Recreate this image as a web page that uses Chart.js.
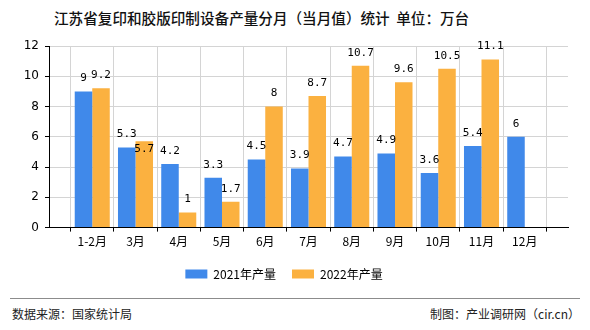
<!DOCTYPE html>
<html>
<head>
<meta charset="utf-8">
<script src="https://cdn.jsdelivr.net/npm/chart.js@4.4.1/dist/chart.umd.min.js"></script>
<style>
  body { margin: 0; width: 590px; height: 330px; position: relative; background: #fff; overflow: hidden;
         font-family: "Noto Sans CJK SC", sans-serif; }
  #title { position: absolute; left: 54px; top: 7px; font-size: 14.6px; font-weight: 500; white-space: nowrap; color: #111; }
  #box { position: absolute; left: 0; top: 0; width: 590px; height: 296px; }
  #rule { position: absolute; left: 10px; width: 570px; top: 298px; border-top: 1px solid #8c8c8c; }
  .foot { position: absolute; top: 305px; font-size: 12px; color: #222; white-space: nowrap; }
</style>
</head>
<body>
<div id="title">江苏省复印和胶版印制设备产量分月（当月值）统计&nbsp;&nbsp;单位：万台</div>
<div id="box"><canvas id="chart" width="590" height="296"></canvas></div>
<div id="rule"></div>
<div class="foot" style="left:12px">数据来源：国家统计局</div>
<div class="foot" style="right:10px">制图：产业调研网（cir.cn）</div>
<script>
const months = ["1-2月", "3月", "4月", "5月", "6月", "7月", "8月", "9月", "10月", "11月", "12月"];
const output2021 = [9, 5.3, 4.2, 3.3, 4.5, 3.9, 4.7, 4.9, 3.6, 5.4, 6];
const output2022 = [9.2, 5.7, 1, 1.7, 8, 8.7, 10.7, 9.6, 10.5, 11.1, null];
const yTicks = [0, 2, 4, 6, 8, 10, 12];

// labels above bars; if the two labels of a month collide, drop the second into its bar
const valueLabels = {
    id: 'valueLabels',
    afterDatasetsDraw(chart) {
        const ctx = chart.ctx;
        ctx.save();
        ctx.font = '11px "DejaVu Sans Mono"';
        ctx.fillStyle = '#000';
        ctx.textAlign = 'center';
        ctx.textBaseline = 'middle';
        const a = chart.getDatasetMeta(0).data;
        const b = chart.getDatasetMeta(1).data;
        const da = chart.data.datasets[0].data;
        const db = chart.data.datasets[1].data;
        for (let j = 0; j < da.length; j++) {
            let ya = null;
            if (da[j] != null) {
                ya = a[j].y - 13;
                ctx.fillText(String(da[j]), a[j].x, ya);
            }
            if (db[j] != null) {
                let yb = b[j].y - 13;
                if (ya != null) {
                    const wa = ctx.measureText(String(da[j])).width;
                    const wb = ctx.measureText(String(db[j])).width;
                    if (Math.abs(ya - yb) < 11 && (wa + wb) / 2 > b[j].x - a[j].x) {
                        yb = b[j].y + 8;
                    }
                }
                ctx.fillText(String(db[j]), b[j].x, yb);
            }
        }
        ctx.restore();
    }
};

function createChart() {
    const el = document.getElementById("chart");
    const data = {
        labels: [""].concat(months, [""]),
        datasets: [{
            label: '2021年产量',
            data: [null].concat(output2021, [null]),
            backgroundColor: '#4089EA',
            barPercentage: 1,
            categoryPercentage: 0.81
        }, {
            label: '2022年产量',
            data: [null].concat(output2022, [null]),
            backgroundColor: '#FBB140',
            barPercentage: 1,
            categoryPercentage: 0.81
        }]
    };

    const config = {
        type: 'bar',
        data: data,
        options: {
            responsive: false,
            animation: false,
            layout: { padding: { top: 46, right: 22, left: 0, bottom: 6 } },
            plugins: {
                legend: {
                    position: 'bottom',
                    labels: {
                        boxWidth: 22,
                        boxHeight: 9,
                        padding: 16,
                        color: '#000',
                        font: { family: '"Noto Sans CJK SC"', size: 12 }
                    }
                },
                tooltip: { enabled: false }
            },
            scales: {
                x: {
                    offset: false,
                    grid: { color: '#d4d4d4', tickColor: '#000', tickLength: 4 },
                    border: { color: '#000' },
                    ticks: {
                        color: '#000',
                        padding: 3,
                        maxRotation: 0,
                        autoSkip: false,
                        font: { family: '"Noto Sans CJK SC"', size: 12 }
                    }
                },
                y: {
                    min: 0,
                    max: 12,
                    afterBuildTicks: (s) => { s.ticks = yTicks.map(v => ({ value: v })); },
                    afterFit: (s) => { s.width = 49; },
                    grid: { color: '#d4d4d4', tickColor: '#000', tickLength: 4 },
                    border: { color: '#000' },
                    ticks: {
                        color: '#000',
                        padding: 6,
                        font: { family: '"DejaVu Sans"', size: 12 }
                    }
                }
            }
        },
        plugins: [valueLabels]
    };

    return new Chart(el, config);
}

createChart();
</script>
</body>
</html>
